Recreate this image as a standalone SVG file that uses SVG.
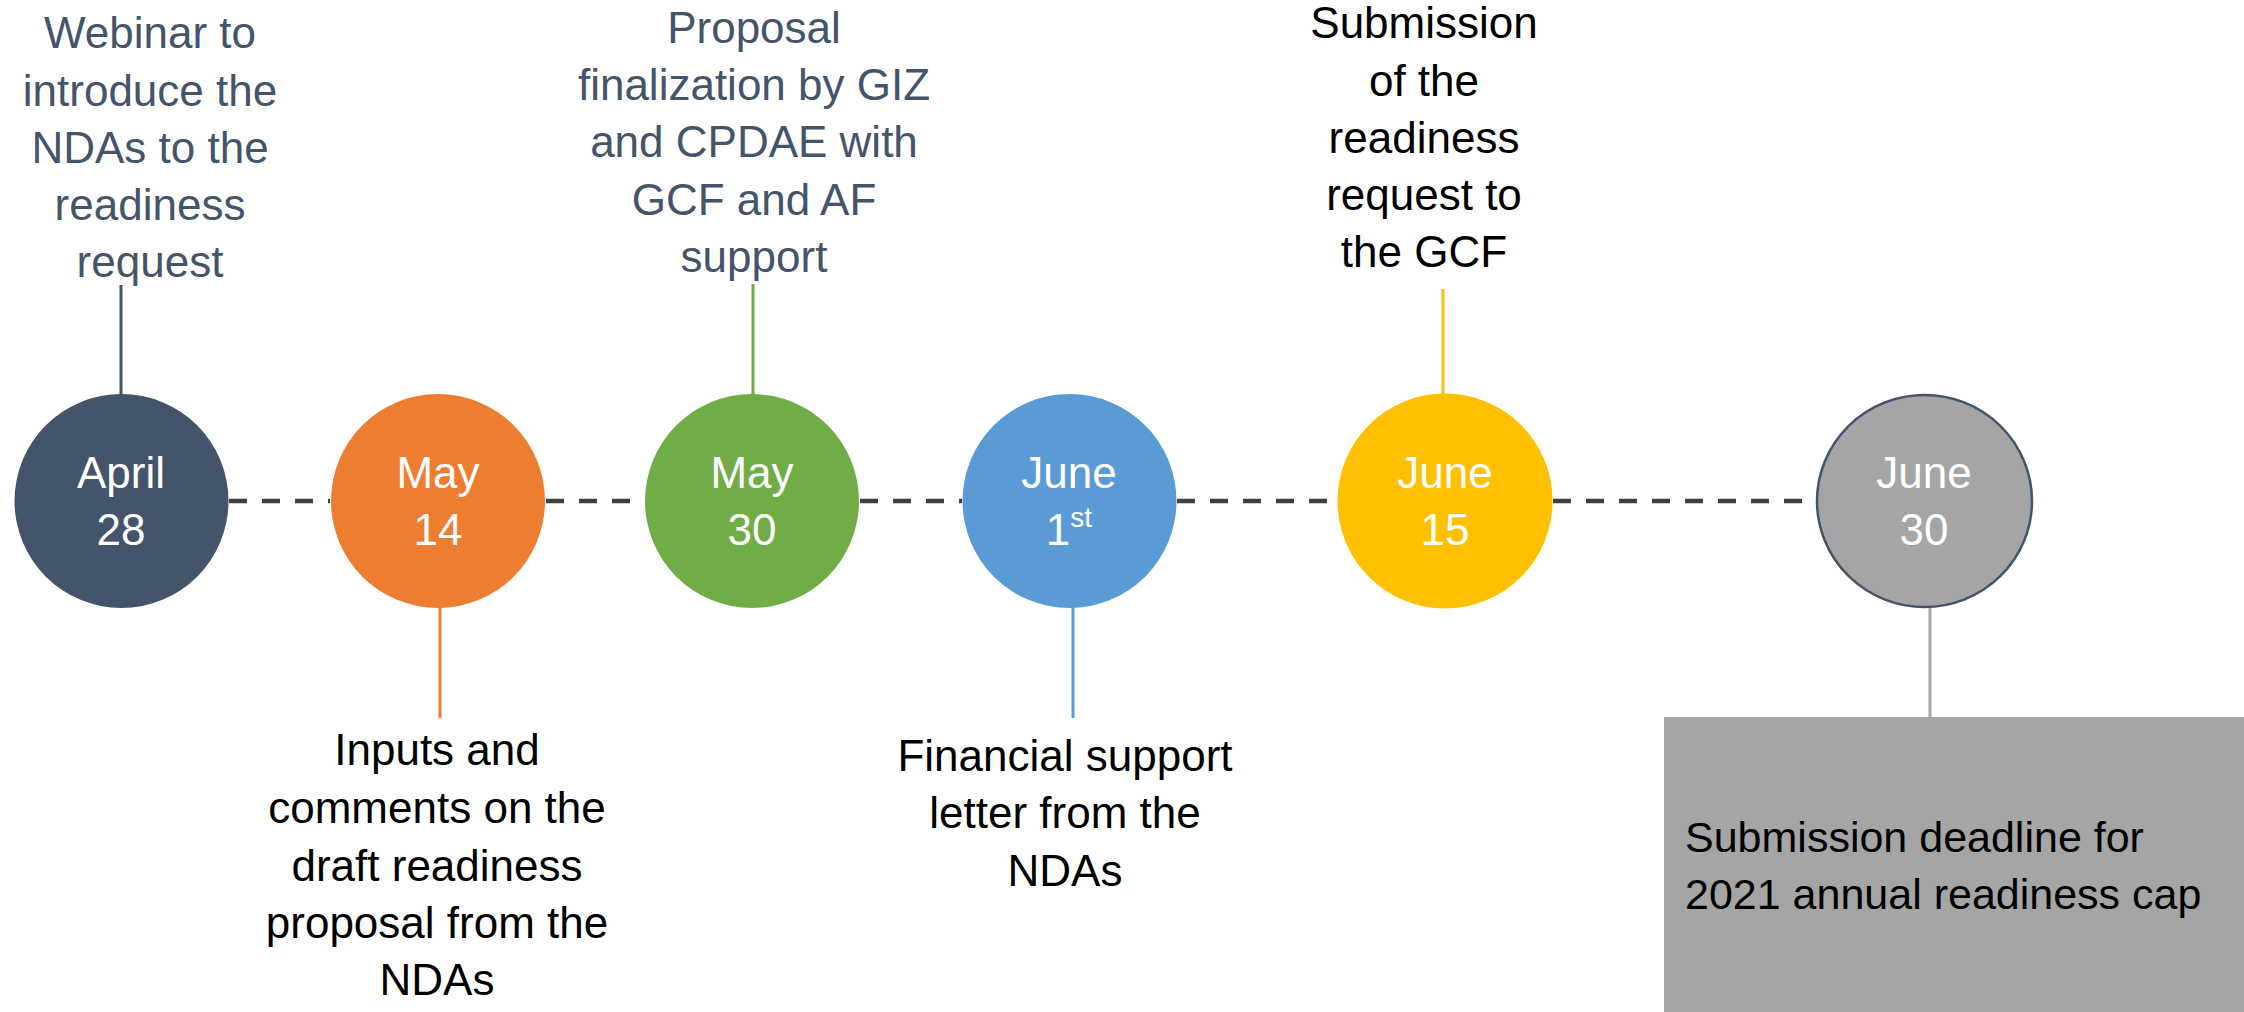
<svg xmlns="http://www.w3.org/2000/svg" width="2244" height="1012" viewBox="0 0 2244 1012">
<style>
.t{font-family:"Liberation Sans",Arial,sans-serif;font-size:44px;text-anchor:middle}
.w{fill:#ffffff}
.s{fill:#44546A}
.k{fill:#000000}
.dash{stroke:#404040;stroke-width:4.5;stroke-dasharray:18 15;fill:none}
.stem{stroke-width:3;fill:none}
</style>
<rect width="2244" height="1012" fill="#ffffff"/>
<g id="connectors">
<line class="dash" x1="229" y1="501" x2="330" y2="501"/>
<line class="dash" x1="546" y1="501" x2="644" y2="501"/>
<line class="dash" x1="860" y1="501" x2="962" y2="501"/>
<line class="dash" x1="1177" y1="501" x2="1337" y2="501"/>
<line class="dash" x1="1553" y1="501" x2="1816" y2="501"/>
<line class="stem" stroke="#44546A" x1="121" y1="285" x2="121" y2="395"/>
<line class="stem" stroke="#ED7D31" x1="440" y1="607" x2="440" y2="718"/>
<line class="stem" stroke="#70AD47" x1="753" y1="284" x2="753" y2="395"/>
<line class="stem" stroke="#5B9BD5" x1="1073" y1="607" x2="1073" y2="718"/>
<line class="stem" stroke="#FFC000" x1="1443" y1="289" x2="1443" y2="395"/>
<line class="stem" stroke="#A5A5A5" x1="1930" y1="608" x2="1930" y2="717"/>
</g>
<g id="n1">
<circle cx="121.5" cy="501" r="107" fill="#44546A"/>
<text class="t w" x="121" y="488">April</text>
<text class="t w" x="121" y="545">28</text>
<text class="t s" x="150"><tspan x="150" y="48">Webinar to</tspan><tspan x="150" y="106">introduce the</tspan><tspan x="150" y="163">NDAs to the</tspan><tspan x="150" y="220">readiness</tspan><tspan x="150" y="277">request</tspan></text>
</g>
<g id="n2">
<circle cx="438" cy="501" r="107" fill="#ED7D31"/>
<text class="t w" x="438" y="488">May</text>
<text class="t w" x="438" y="545">14</text>
<text class="t k"><tspan x="437" y="765">Inputs and</tspan><tspan x="437" y="823">comments on the</tspan><tspan x="437" y="881">draft readiness</tspan><tspan x="437" y="938">proposal from the</tspan><tspan x="437" y="995">NDAs</tspan></text>
</g>
<g id="n3">
<circle cx="752" cy="501" r="107" fill="#70AD47"/>
<text class="t w" x="752" y="488">May</text>
<text class="t w" x="752" y="545">30</text>
<text class="t s"><tspan x="754" y="43">Proposal</tspan><tspan x="754" y="100">finalization by GIZ</tspan><tspan x="754" y="157">and CPDAE with</tspan><tspan x="754" y="215">GCF and AF</tspan><tspan x="754" y="272">support</tspan></text>
</g>
<g id="n4">
<circle cx="1069.5" cy="501" r="107" fill="#5B9BD5"/>
<text class="t w" x="1069" y="488">June</text>
<text class="t w" x="1069" y="545">1<tspan font-size="28" dy="-18">st</tspan></text>
<text class="t k"><tspan x="1065" y="771">Financial support</tspan><tspan x="1065" y="828">letter from the</tspan><tspan x="1065" y="886">NDAs</tspan></text>
</g>
<g id="n5">
<circle cx="1445" cy="501" r="107.5" fill="#FFC000"/>
<text class="t w" x="1445" y="488">June</text>
<text class="t w" x="1445" y="545">15</text>
<text class="t k"><tspan x="1424" y="38">Submission</tspan><tspan x="1424" y="96">of the</tspan><tspan x="1424" y="153">readiness</tspan><tspan x="1424" y="210">request to</tspan><tspan x="1424" y="267">the GCF</tspan></text>
</g>
<g id="n6">
<ellipse cx="1924.5" cy="501" rx="107.5" ry="106" fill="#A5A5A5" stroke="#44546A" stroke-width="2.5"/>
<text class="t w" x="1924" y="488">June</text>
<text class="t w" x="1924" y="545">30</text>
</g>
<g id="n7">
<rect x="1664" y="717" width="580" height="295" fill="#A5A5A5"/>
<text class="t k" style="text-anchor:start;font-size:43px"><tspan x="1685" y="852">Submission deadline for</tspan><tspan x="1685" y="909">2021 annual readiness cap</tspan></text>
</g>
</svg>
